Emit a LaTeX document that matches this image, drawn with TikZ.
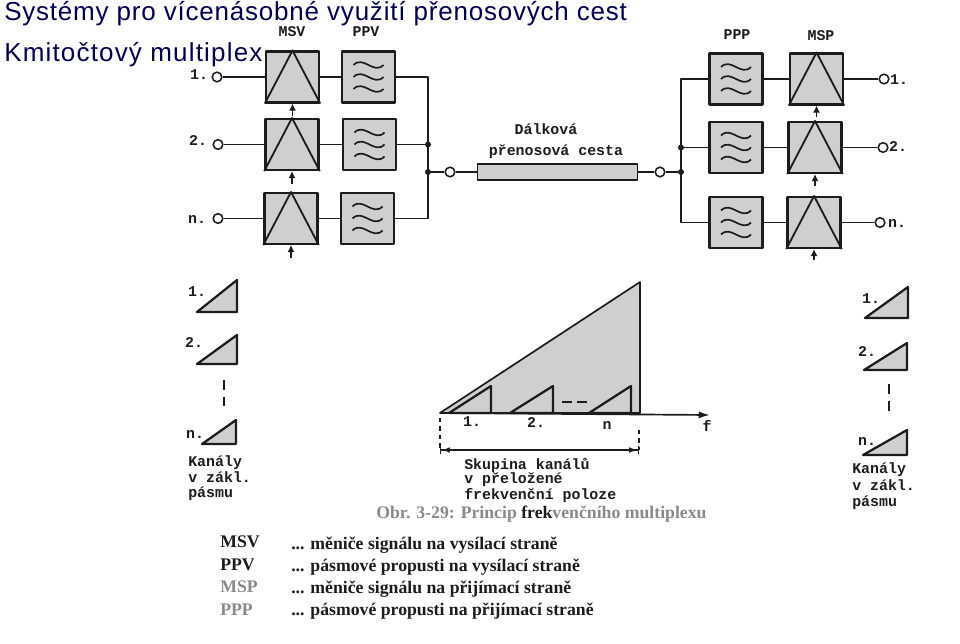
\documentclass[tikz,border=0pt]{standalone}
\usepackage{fontspec}
\usepackage{xcolor}
\setmainfont{Liberation Serif}
\setmonofont{Liberation Mono}
\newfontfamily\titlefont[LetterSpace=3]{Liberation Sans}
\newfontfamily\subtitlefont[LetterSpace=4.5]{Liberation Sans}
\usetikzlibrary{arrows.meta, positioning, calc}
\definecolor{Navy}{HTML}{000050}
\definecolor{Ink}{HTML}{1C1C1C}
\definecolor{Shade}{HTML}{CFCFCF}
\definecolor{Faded}{HTML}{8A8A8A}

\begin{document}
\begin{tikzpicture}[x=0.025cm,y=-0.025cm,line join=round,
blockbox/.style={draw=Ink,fill=Shade,line width=1.6pt,minimum width=1.33cm,minimum height=1.27cm,inner sep=0pt},
term/.style={draw=Ink,fill=white,circle,line width=1.1pt,minimum size=0.24cm,inner sep=0pt},
dotn/.style={fill=Ink,circle,minimum size=0.15cm,inner sep=0pt},
wire/.style={draw=Ink,line width=1pt},
stub/.style={draw=Ink,line width=1pt,-{Latex[length=5pt,width=5pt]}},
wave/.style={draw=Ink,line width=1.2pt},
tri/.style={draw=Ink,fill=Shade,line width=1.6pt},
lbl/.style={font=\ttfamily\bfseries\fontsize{10.6}{12}\selectfont,text=Ink,inner sep=0pt},
lblleft/.style={lbl,anchor=west},
legend/.style={anchor=west,font=\bfseries\fontsize{12.6}{14}\selectfont,text=Ink,inner sep=0pt},
head/.style={anchor=west,font=\titlefont\fontsize{18.5}{20}\selectfont,text=Navy,inner sep=0pt},
subhead/.style={head,font=\subtitlefont\fontsize{18.5}{20}\selectfont}]
\useasboundingbox (0,0) rectangle (960,644);
\fill[white] (0,0) rectangle (960,644);
% titles
\node[head] (title) at (4,14){Systémy pro vícenásobné využití přenosových cest};
\node[subhead] (subtitle) at (4,55){Kmitočtový multiplex};
% transmit side
\node[blockbox] (msv1) at (292.5,77){};
\node[blockbox] (msv2) at (292,144.5){};
\node[blockbox] (msv3) at (291,218.5){};
\node[blockbox] (ppv1) at (368.5,77){};
\node[blockbox] (ppv2) at (369.5,144.5){};
\node[blockbox] (ppv3) at (367.5,218.5){};
\node[term] (in1) at (217,77){};
\node[term] (in2) at (218,144.5){};
\node[term] (in3) at (218,218.5){};
\node[dotn] (busl1) at (428,144.5){};
\node[dotn] (busl2) at (428,172){};
\node[term] (lineL) at (450,172){};
\node[draw=Ink,fill=Shade,line width=1.3pt,minimum width=4cm,minimum height=0.4cm,inner sep=0pt] (line) at (557.5,172){};
% receive side
\node[term] (lineR) at (660,172){};
\node[dotn] (busr1) at (681,147.5){};
\node[dotn] (busr2) at (681,172){};
\node[blockbox] (ppp1) at (736,79){};
\node[blockbox] (ppp2) at (736,147.5){};
\node[blockbox] (ppp3) at (736,222.5){};
\node[blockbox] (msp1) at (816.5,79){};
\node[blockbox] (msp2) at (815,147.5){};
\node[blockbox] (msp3) at (814,222.5){};
\node[term] (out1) at (884,79){};
\node[term] (out2) at (883,147.5){};
\node[term] (out3) at (880,222.5){};
% converter triangles and filter waves
\foreach \b in {msv1,msv2,msv3,msp1,msp2,msp3}{\draw[draw=Ink,line width=1.3pt] (\b.south west) -- (\b.north) -- (\b.south east);}
\foreach \b in {ppv1,ppv2,ppv3,ppp1,ppp2,ppp3}{\foreach \o in {-12,0,12}{\draw[wave] ([shift={(-15,\o)}]\b.center) .. controls +(10,-10) and +(-10,10) .. ([shift={(15,\o)}]\b.center);}}
% wires
\draw[wire] (in1) -- (msv1);\draw[wire] (in2) -- (msv2);\draw[wire] (in3) -- (msv3);
\draw[wire] (msv1) -- (ppv1);\draw[wire] (msv2) -- (ppv2);\draw[wire] (msv3) -- (ppv3);
\draw[wire] (ppv1.east) -| (busl1.center);\draw[wire] (ppv2.east) -- (busl1.center);\draw[wire] (busl1.center) -- (busl2.center);\draw[wire] (ppv3.east) -| (busl2.center);
\draw[wire] (busl2) -- (lineL);\draw[wire] (lineL) -- (line);\draw[wire] (line) -- (lineR);\draw[wire] (lineR) -- (busr2);
\draw[wire] (ppp1.west) -| (busr1.center);\draw[wire] (ppp2.west) -- (busr1.center);\draw[wire] (busr1.center) -- (busr2.center);\draw[wire] (ppp3.west) -| (busr2.center);
\draw[wire] (ppp1) -- (msp1);\draw[wire] (ppp2) -- (msp2);\draw[wire] (ppp3) -- (msp3);
\draw[wire] (msp1) -- (out1);\draw[wire] (msp2) -- (out2);\draw[wire] (msp3) -- (out3);
% carrier inputs
\coordinate (c1) at (292.5,116);\coordinate (c2) at (292,184);\coordinate (c3) at (291,258);
\coordinate (c4) at (816.5,117);\coordinate (c5) at (815,186);\coordinate (c6) at (814,260);
\draw[stub] (c1) -- (msv1);\draw[stub] (c2) -- (msv2);\draw[stub] (c3) -- (msv3);
\draw[stub] (c4) -- (msp1);\draw[stub] (c5) -- (msp2);\draw[stub] (c6) -- (msp3);
% block labels
\node[lbl] (lmsv) at (292,32){MSV};\node[lbl] (lppv) at (366,32){PPV};
\node[lbl] (lppp) at (737,35){PPP};\node[lbl] (lmsp) at (821,36){MSP};
\node[lbl] (lin1) at (199,75){1.};\node[lbl] (lin2) at (198,141){2.};\node[lbl] (lin3) at (197,219){n.};
\node[lbl] (lout1) at (899,80){1.};\node[lbl] (lout2) at (898,147){2.};\node[lbl] (lout3) at (897,223){n.};
\node[lbl] (lpath) at (546,129){Dálková};\node[lbl] (lpath2) at (556,152){přenosová cesta};
% baseband spectra
\foreach \xa/\xb/\ya/\yb in {197/237/280/312,197/237/335/364,202/236/420/444,865/908/287/318,864/907/343/370,863/907/430/455}{\draw[tri] (\xa,\yb) -- (\xb,\ya) -- (\xb,\yb) -- cycle;}
\draw[Ink,line width=0.9pt,dashed,dash pattern=on 7pt off 5pt] (224,380) -- (224,406);
\draw[Ink,line width=0.9pt,dashed,dash pattern=on 7pt off 5pt] (889,384) -- (889,414);
\node[lbl] (lsl1) at (197,292){1.};\node[lbl] (lsl2) at (194,343){2.};\node[lbl] (lsl3) at (195,434){n.};
\node[lbl] (lsr1) at (871,299){1.};\node[lbl] (lsr2) at (867,352){2.};\node[lbl] (lsr3) at (867,441){n.};
\node[lblleft] (kl1) at (188,463){Kanály};\node[lblleft] (kl2) at (188,477){v zákl.};\node[lblleft] (kl3) at (188,494){pásmu};
\node[lblleft] (kr1) at (852,470){Kanály};\node[lblleft] (kr2) at (852,485){v zákl.};\node[lblleft] (kr3) at (852,503){pásmu};
% group spectrum
\draw[tri,line width=1.2pt] (440,413) -- (640,282) -- (640,413) -- cycle;
\foreach \xa/\xb in {449/491,510/553,589/631}{\draw[tri] (\xa,413) -- (\xb,386) -- (\xb,413) -- cycle;}
\coordinate (axl) at (440,413);\coordinate (axr) at (710,415);
\draw[draw=Ink,line width=1.2pt,-{Latex[length=8pt,width=5pt]}] (axl) -- (axr);
\draw[Ink,line width=1pt,dash pattern=on 7pt off 4pt] (562,402) -- (588,402);
\node[lbl] (lg1) at (472,422){1.};\node[lbl] (lg2) at (536,423){2.};\node[lbl] (lg3) at (607,425){n};\node[lbl] (lf) at (707,426){f};
\coordinate (dl) at (440,450);\coordinate (dr) at (639,450);\coordinate (tl) at (440,418);\coordinate (tr) at (639,430);
\draw[Ink,line width=0.8pt,dashed] (tl) -- (dl);\draw[Ink,line width=0.8pt,dashed] (tr) -- (dr);
\draw[draw=Ink,line width=1pt,{Bar[width=5pt]Latex[length=6pt,width=4pt]}-{Latex[length=6pt,width=4pt]Bar[width=5pt]}] (dl) -- (dr);
\node[lblleft] (sk1) at (464,465){Skupina kanálů};\node[lblleft] (sk2) at (464,480){v přeložené};\node[lblleft] (sk3) at (464,496){frekvenční poloze};
% caption and legend
\node[legend,text=Faded] (cap) at (376,514){Obr. 3-29: Princip \textcolor{Ink}{frek}venčního multiplexu};
\node[legend] (k1) at (220,542){MSV};\node[legend] (k2) at (220,565){PPV};\node[legend,text=Faded] (k3) at (220,587){MSP};\node[legend,text=Faded] (k4) at (220,610){PPP};
\node[legend] (d1) at (291,545){... měniče signálu na vysílací straně};
\node[legend] (d2) at (291,567){... pásmové propusti na vysílací straně};
\node[legend] (d3) at (291,589){... měniče signálu na přijímací straně};
\node[legend] (d4) at (291,611){... pásmové propusti na přijímací straně};
\end{tikzpicture}
\end{document}
